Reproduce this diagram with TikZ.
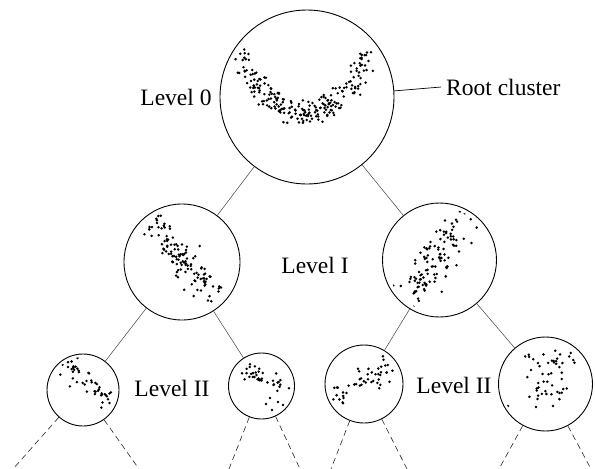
\documentclass[tikz,border=0pt]{standalone}
\usepackage{fontspec}
\setmainfont{Liberation Serif}

% scatter of dots along a band from (x1,y1) to (x2,y2)
% #1 seed, #2 count, #3 x1, #4 y1, #5 x2, #6 y2, #7 spread x, #8 spread y
\newcommand\scatterband[8]{%
  \pgfmathsetseed{#1}%
  \foreach \k in {1,...,#2}{%
    \pgfmathsetmacro\dotT{rnd}%
    \pgfmathsetmacro\px{#3+\dotT*(#5-#3)+#7*(rand+rand)/2}%
    \pgfmathsetmacro\py{#4+\dotT*(#6-#4)+#8*(rand+rand)/2}%
    \fill (\px,\py) circle (1.4pt);
  }%
}

\begin{document}
\begin{tikzpicture}[x=1pt,y=-1pt,
  cluster/.style={circle, draw, line width=0.9pt, inner sep=0pt},
  edge/.style={draw=black!70, line width=0.55pt},
  open/.style={draw=black!85, line width=0.6pt, dash pattern=on 6pt off 4pt},
  lbl/.style={font=\fontsize{23.5}{27}\selectfont, inner sep=0pt,
    text=black, draw=none}]
\useasboundingbox (0,0) rectangle (595,469);

% clusters
\node[cluster, minimum size=174pt] (root) at (307,97) {};
\node[cluster, minimum size=116pt] (la) at (182,262) {};
\node[cluster, minimum size=114pt] (lb) at (439.5,260) {};
\node[cluster, minimum size=72pt] (c1) at (83,390) {};
\node[cluster, minimum size=66pt] (c2) at (261.5,386) {};
\node[cluster, minimum size=78pt] (c3) at (364,384) {};
\node[cluster, minimum size=94pt] (c4) at (545.5,384) {};

% labels
\node[lbl] (l0) at (176,97) {Level 0};
\node[lbl] (l1) at (315,265) {Level I};
\node[lbl] (l2a) at (172,388) {Level II};
\node[lbl] (l2b) at (454,385) {Level II};
\coordinate (rctip) at (441,87);
\node[lbl, anchor=west] (rc) at (446,87) {Root cluster};
\draw[line width=0.7pt] (root.4) -- (rctip);

% tree edges
\draw[edge] (root) -- (la);
\draw[edge] (root) -- (lb);
\draw[edge] (la) -- (c1);
\draw[edge] (la) -- (c2);
\draw[edge] (lb) -- (c3);
\draw[edge] (lb) -- (c4);

% subtrees continuing below
\coordinate (e1) at (13,469);
\coordinate (e2) at (139,469);
\coordinate (e3) at (229,469);
\coordinate (e4) at (300,469);
\coordinate (e5) at (331,469);
\coordinate (e6) at (407,469);
\coordinate (e7) at (499,469);
\coordinate (e8) at (591,469);
\draw[open] (c1) -- (e1);
\draw[open] (c1) -- (e2);
\draw[open] (c2) -- (e3);
\draw[open] (c2) -- (e4);
\draw[open] (c3) -- (e5);
\draw[open] (c3) -- (e6);
\draw[open] (c4) -- (e7);
\draw[open] (c4) -- (e8);

% data points
\begin{scope}
  \clip (307,97) circle (82pt);
  \pgfmathsetseed{11}
  \foreach \k in {1,...,230}{
    \pgfmathsetmacro\dotT{rand}
    \pgfmathsetmacro\px{304+68*(\dotT)+15*(rand+rand)/2}
    \pgfmathsetmacro\py{113-60*(\dotT)*(\dotT)+14*(rand+rand)/2}
    \fill (\px,\py) circle (1.4pt);
  }
\end{scope}
\begin{scope}
  \clip (182,262) circle (54pt);
  \scatterband{3}{120}{152}{219}{213}{298}{20}{16}
\end{scope}
\begin{scope}
  \clip (439.5,260) circle (53pt);
  \scatterband{5}{110}{412}{296}{461}{220}{24}{18}
\end{scope}
\begin{scope}
  \clip (83,390) circle (33pt);
  \scatterband{7}{50}{68}{362}{108}{403}{18}{13}
\end{scope}
\begin{scope}
  \clip (261.5,386) circle (30pt);
  \scatterband{9}{36}{240}{368}{282}{385}{10}{10}
  \foreach \p in {(270,398),(278,402),(283,405),(272,410),(266,404)}
    \fill \p circle (1.4pt);
\end{scope}
\begin{scope}
  \clip (364,384) circle (36pt);
  \scatterband{13}{50}{337}{400}{392}{367}{14}{14}
\end{scope}
\begin{scope}
  \clip (545.5,384) circle (44pt);
  \scatterband{17}{48}{550}{352}{548}{398}{26}{10}
  \foreach \p in {(508,406),(536,407),(531,370),(553,406)}
    \fill \p circle (1.4pt);
\end{scope}
\end{tikzpicture}
\end{document}
